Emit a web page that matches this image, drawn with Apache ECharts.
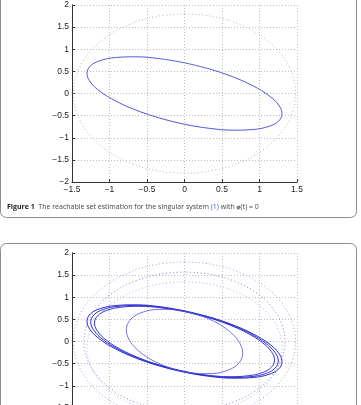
<!DOCTYPE html>
<html lang="en">
<head>
    <meta charset="UTF-8">
    <title>Reachable set estimation</title>
    <script src="https://cdn.jsdelivr.net/npm/echarts@6/dist/echarts.min.js"></script>
    <style>
        html, body { margin: 0; padding: 0; background: #fff; overflow: hidden; }
        #chart { width: 361px; height: 450px; }
    </style>
    <script>
        // tick labels
        var xTicks = [-1.5, -1, -0.5, 0, 0.5, 1, 1.5];
        var yTicks = [-2, -1.5, -1, -0.5, 0, 0.5, 1, 1.5, 2];

        // points, every 15 degrees round each curve
        var outerBound = [[1.48, 0], [1.430, 0.466], [1.282, 0.9], [1.047, 1.273], [0.74, 1.559], [0.383, 1.739], [0, 1.8],
            [-0.383, 1.739], [-0.74, 1.559], [-1.047, 1.273], [-1.282, 0.9], [-1.430, 0.466], [-1.48, 0],
            [-1.430, -0.466], [-1.282, -0.9], [-1.047, -1.273], [-0.74, -1.559], [-0.383, -1.739], [0, -1.8],
            [0.383, -1.739], [0.74, -1.559], [1.047, -1.273], [1.282, -0.9], [1.430, -0.466]];
        var midBound = [[1.34, 0], [1.294, 0.406], [1.160, 0.785], [0.948, 1.110], [0.67, 1.360], [0.347, 1.516], [0, 1.57],
            [-0.347, 1.516], [-0.67, 1.360], [-0.948, 1.110], [-1.160, 0.785], [-1.294, 0.406], [-1.34, 0],
            [-1.294, -0.406], [-1.160, -0.785], [-0.948, -1.110], [-0.67, -1.360], [-0.347, -1.516], [0, -1.57],
            [0.347, -1.516], [0.67, -1.360], [0.948, -1.110], [1.160, -0.785], [1.294, -0.406]];
        var innerBound = [[1.3, -0.15], [1.256, 0.238], [1.126, 0.6], [0.919, 0.911], [0.65, 1.149], [0.336, 1.299], [0, 1.35],
            [-0.336, 1.299], [-0.65, 1.149], [-0.919, 0.911], [-1.126, 0.6], [-1.256, 0.238], [-1.3, -0.15],
            [-1.256, -0.538], [-1.126, -0.9], [-0.919, -1.211], [-0.65, -1.449], [-0.336, -1.599], [0, -1.65],
            [0.336, -1.599], [0.65, -1.449], [0.919, -1.211], [1.126, -0.9], [1.256, -0.538]];
        var setA = [[1.3, -0.456], [1.256, -0.261], [1.126, -0.048], [0.919, 0.168], [0.65, 0.373], [0.336, 0.552], [0, 0.694],
            [-0.336, 0.788], [-0.65, 0.829], [-0.919, 0.813], [-1.126, 0.742], [-1.256, 0.620], [-1.3, 0.456],
            [-1.256, 0.261], [-1.126, 0.048], [-0.919, -0.168], [-0.65, -0.373], [-0.336, -0.552], [0, -0.694],
            [0.336, -0.788], [0.65, -0.829], [0.919, -0.813], [1.126, -0.742], [1.256, -0.620]];
        var setB = [[1.25, -0.44], [1.207, -0.248], [1.083, -0.039], [0.884, 0.173], [0.625, 0.373], [0.324, 0.548], [0, 0.685],
            [-0.324, 0.776], [-0.625, 0.813], [-0.884, 0.795], [-1.083, 0.724], [-1.207, 0.602], [-1.25, 0.44],
            [-1.207, 0.248], [-1.083, 0.039], [-0.884, -0.173], [-0.625, -0.373], [-0.324, -0.548], [0, -0.685],
            [0.324, -0.776], [0.625, -0.813], [0.884, -0.795], [1.083, -0.724], [1.207, -0.602]];
        var setC = [[1.2, -0.42], [1.159, -0.231], [1.039, -0.026], [0.849, 0.180], [0.6, 0.375], [0.311, 0.543], [0, 0.675],
            [-0.311, 0.761], [-0.6, 0.795], [-0.849, 0.774], [-1.039, 0.702], [-1.159, 0.581], [-1.2, 0.42],
            [-1.159, 0.231], [-1.039, 0.026], [-0.849, -0.180], [-0.6, -0.375], [-0.311, -0.543], [0, -0.675],
            [0.311, -0.761], [0.6, -0.795], [0.849, -0.774], [1.039, -0.702], [1.159, -0.581]];
        var setD = [[0.775, -0.262], [0.749, -0.077], [0.671, 0.114], [0.548, 0.296], [0.388, 0.459], [0.201, 0.590], [0, 0.681],
            [-0.201, 0.726], [-0.388, 0.721], [-0.548, 0.667], [-0.671, 0.568], [-0.749, 0.429], [-0.775, 0.262],
            [-0.749, 0.077], [-0.671, -0.114], [-0.548, -0.296], [-0.388, -0.459], [-0.201, -0.590], [0, -0.681],
            [0.201, -0.726], [0.388, -0.721], [0.548, -0.667], [0.671, -0.568], [0.749, -0.429]];

        // start on a flat part of the loop and close it
        function loop(pts) {
            return pts.slice(6).concat(pts.slice(0, 7));
        }

        function fmt(v) {
            return String(v).replace('-', '\u2212');
        }

        function makeX(idx) {
            return {
                type: 'value', gridIndex: idx, min: xTicks[0], max: xTicks[xTicks.length - 1], interval: 0.5,
                axisLine: { onZero: false, lineStyle: { color: '#333', width: 1 } },
                axisTick: { inside: true, length: 3, lineStyle: { color: '#333' } },
                axisLabel: { formatter: fmt, fontSize: 8.5, color: '#222', margin: 3, fontFamily: 'Liberation Sans' },
                splitLine: { show: true, lineStyle: { color: '#bdbdbd', type: [1, 2], width: 1 } }
            };
        }

        function makeY(idx) {
            return {
                type: 'value', gridIndex: idx, min: yTicks[0], max: yTicks[yTicks.length - 1], interval: 0.5,
                axisLine: { onZero: false, lineStyle: { color: '#333', width: 1 } },
                axisTick: { inside: true, length: 3, lineStyle: { color: '#333' } },
                axisLabel: { formatter: fmt, fontSize: 8.5, color: '#222', margin: 3, fontFamily: 'Liberation Sans' },
                splitLine: { show: true, lineStyle: { color: '#bdbdbd', type: [1, 2], width: 1 } }
            };
        }

        function curve(idx, pts, color, dotted, width) {
            return {
                type: 'line', xAxisIndex: idx, yAxisIndex: idx, data: loop(pts),
                smooth: 0.4, symbol: 'none', silent: true, animation: false,
                lineStyle: { color: color, width: width || 1, type: dotted ? [1, 2.5] : 'solid' }
            };
        }

        window.onload = () => {
            var chart = echarts.init(document.getElementById('chart'));
            chart.setOption({
                animation: false,
                backgroundColor: '#fff',
                grid: [
                    { left: 72, top: 5, width: 225, height: 177 },
                    { left: 72, top: 253, width: 225, height: 177 }
                ],
                xAxis: [makeX(0), makeX(1)],
                yAxis: [makeY(0), makeY(1)],
                series: [
                    curve(0, outerBound, '#b4b4c4', true),
                    curve(0, setA, '#5555da', false),
                    curve(1, outerBound, '#a0a0e4', true),
                    curve(1, midBound, '#8080de', true),
                    curve(1, innerBound, '#b0b0ee', true),
                    curve(1, setA, '#2d2dcf', false),
                    curve(1, setB, '#2d2dcf', false),
                    curve(1, setC, '#3434d2', false),
                    curve(1, setD, '#4c4cd8', false, 0.8)
                ],
                graphic: [
                    { type: 'rect', shape: { x: 0.5, y: -20, width: 356, height: 237.5, r: 6 },
                      style: { fill: 'none', stroke: '#8c8c8c', lineWidth: 1 } },
                    { type: 'rect', shape: { x: 0.5, y: 243.5, width: 356, height: 230, r: 6 },
                      style: { fill: 'none', stroke: '#8c8c8c', lineWidth: 1 } },
                    { type: 'text', x: 7, y: 207,
                      style: {
                          text: '{b|Figure 1}  The reachable set estimation for the singular system {l|(1)} with {p|\u03d5}(t) = 0',
                          fontSize: 7, fontFamily: 'Open Sans', fill: '#444', verticalAlign: 'middle',
                          rich: {
                              b: { fontSize: 7, fontWeight: 'bold', fontFamily: 'Open Sans', fill: '#222' },
                              l: { fontSize: 7, fontFamily: 'Open Sans', fill: '#3a5fc8' },
                              p: { fontSize: 7, fontWeight: 'bold', fontStyle: 'italic', fontFamily: 'Open Sans', fill: '#222' }
                          }
                      } }
                ]
            });
        };
    </script>
</head>
<body>
    <div id="chart"></div>
</body>
</html>
